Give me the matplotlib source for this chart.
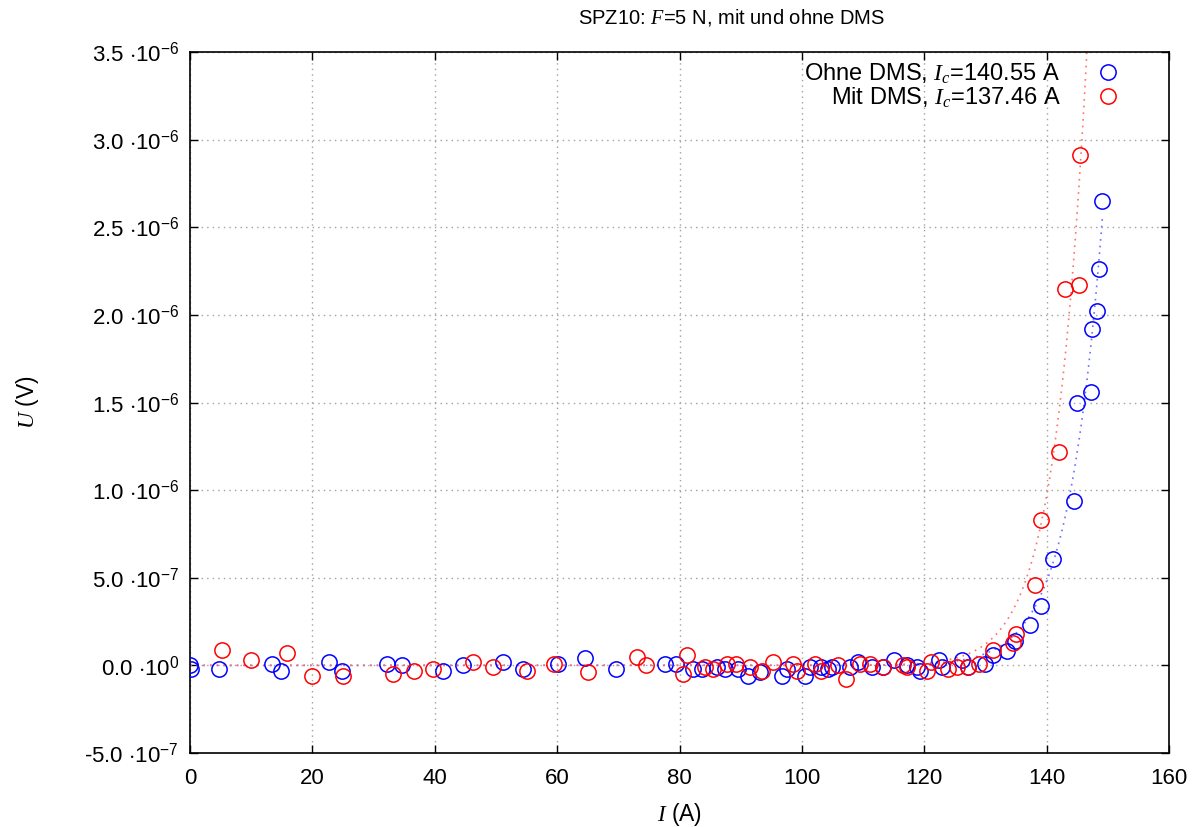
import numpy as np
import matplotlib
matplotlib.use("Agg")
import matplotlib.pyplot as plt
from matplotlib.ticker import FixedLocator

plt.rcParams['font.family'] = ['Liberation Sans', 'DejaVu Sans']
plt.rcParams['mathtext.fontset'] = 'custom'
plt.rcParams['mathtext.rm'] = 'Liberation Sans'
plt.rcParams['mathtext.it'] = 'Liberation Serif:italic'
plt.rcParams['mathtext.bf'] = 'Liberation Sans:bold'

# ---- data (U in 1e-6 V) ----
ohne_I = [0.0, 0.1, 4.76, 13.4, 14.9, 22.7, 24.8, 32.2, 34.7, 41.3, 44.6, 51.1, 54.4,
          60.2, 64.5, 69.6, 77.6, 79.4, 82.2, 83.7, 86.1, 87.5, 89.5, 91.2, 93.1,
          96.7, 97.6, 100.5, 101.3, 103.2, 104.2, 105.0, 107.8, 109.2, 111.5, 113.3,
          115.1, 117.1, 118.8, 119.3, 122.4, 122.9, 126.2, 127.2, 129.9, 131.2,
          133.5, 134.8, 137.3, 139.1, 141.1, 144.4, 145.0, 147.2, 147.4, 148.3,
          148.5, 149.1]
ohne_U = [0.0, -0.02, -0.02, 0.01, -0.03, 0.02, -0.03, 0.01, 0.0, -0.03, 0.0, 0.02, -0.02,
          0.01, 0.04, -0.02, 0.01, 0.01, -0.02, -0.02, -0.01, -0.02, -0.02, -0.06, -0.04,
          -0.06, -0.02, -0.06, -0.01, -0.01, -0.02, -0.01, -0.01, 0.02, -0.01, -0.01,
          0.03, 0.0, -0.01, -0.03, 0.03, -0.01, 0.03, -0.01, 0.006, 0.06,
          0.08, 0.14, 0.23, 0.34, 0.605, 0.936, 1.497, 1.558, 1.92, 2.02,
          2.26, 2.65]

mit_I = [5.26, 9.93, 15.9, 20.0, 25.0, 33.2, 36.6, 39.7, 46.3, 49.5, 55.1, 59.5,
         65.0, 73.1, 74.5, 80.6, 81.2, 84.2, 85.5, 87.8, 89.3, 91.5, 93.5, 95.3,
         98.6, 99.2, 102.1, 103.2, 105.9, 107.2, 109.5, 111.1, 113.3, 116.5, 117.1,
         120.4, 121.1, 123.9, 125.3, 127.2, 129.0, 131.2, 134.5, 135.0, 138.1,
         139.05, 142.0, 143.0, 145.3, 145.4]
mit_U = [0.09, 0.03, 0.07, -0.06, -0.06, -0.05, -0.03, -0.02, 0.02, -0.01, -0.03, 0.01,
         -0.04, 0.05, 0.0, -0.05, 0.06, -0.01, -0.02, 0.01, 0.01, -0.01, -0.03, 0.02,
         0.01, -0.03, 0.01, -0.03, 0.0, -0.08, 0.01, 0.01, -0.01, 0.0, -0.01,
         -0.03, 0.017, -0.02, -0.01, -0.01, 0.006, 0.086, 0.125, 0.18, 0.46,
         0.83, 1.22, 2.15, 2.17, 2.91]

# fit parameters (power law U = Uc*(I/Ic)^n)
ohne_Ic, ohne_Uc, ohne_n = 140.55, 0.533, 26.5
mit_Ic, mit_Uc, mit_n = 137.46, 0.58, 28.0

y_ticks = [-0.5, 0.0, 0.5, 1.0, 1.5, 2.0, 2.5, 3.0, 3.5]
y_labels = [r"-5.0 $\cdot$10$^{-7}$", r"0.0 $\cdot$10$^{0}$", r"5.0 $\cdot$10$^{-7}$",
            r"1.0 $\cdot$10$^{-6}$", r"1.5 $\cdot$10$^{-6}$", r"2.0 $\cdot$10$^{-6}$",
            r"2.5 $\cdot$10$^{-6}$", r"3.0 $\cdot$10$^{-6}$", r"3.5 $\cdot$10$^{-6}$"]
x_ticks = [0, 20, 40, 60, 80, 100, 120, 140, 160]

fig = plt.figure(figsize=(12.02, 8.27), dpi=100)
ax = fig.add_axes([190 / 1202, 1 - 753 / 827, 979 / 1202, 701 / 827])

Imax = max(max(ohne_I), max(mit_I))
Ifit = np.linspace(0, Imax, 800)
ax.plot(Ifit, ohne_Uc * (Ifit / ohne_Ic) ** ohne_n, ls=(0, (1, 3)), color='#6f6fff', lw=1.2, zorder=2)
ax.plot(Ifit, mit_Uc * (Ifit / mit_Ic) ** mit_n, ls=(0, (1, 3)), color='#ff6f6f', lw=1.2, zorder=2)

ax.plot(ohne_I, ohne_U, 'o', mfc='none', mec='#0000ff', ms=11, mew=1.1, ls='none',
        label=r"Ohne DMS, $I_c$=140.55 A", zorder=3)
ax.plot(mit_I, mit_U, 'o', mfc='none', mec='#ff0000', ms=11, mew=1.1, ls='none',
        label=r"Mit DMS, $I_c$=137.46 A", zorder=3)

ax.set_xlim(0, 160)
ax.set_ylim(-0.5, 3.5)
ax.xaxis.set_major_locator(FixedLocator(x_ticks))
ax.set_xticklabels([str(t) for t in x_ticks])
ax.yaxis.set_major_locator(FixedLocator(y_ticks))
ax.set_yticklabels(y_labels)
ax.tick_params(direction='in', top=True, right=True, labelsize=16, length=6, width=1)
ax.tick_params(axis='y', pad=8)
ax.tick_params(axis='x', pad=11)
ax.grid(True, ls=(0, (1, 3)), color='#a0a0a0', lw=1)
for s in ax.spines.values():
    s.set_linewidth(1.2)

ax.set_xlabel(r"$I$ (A)", fontsize=16.5)
ax.xaxis.set_label_coords(0.5, -0.069)
ax.set_ylabel(r"$U$ (V)", fontsize=16.5)
ax.yaxis.set_label_coords(-0.152, 0.5)
fig.text(731 / 1202, 1 - 18 / 827, r"SPZ10: $F$=5 N, mit und ohne DMS", fontsize=14.5,
         ha='center', va='center')

leg = ax.legend(loc='upper right', bbox_to_anchor=(0.971, 1.0), frameon=False,
                markerfirst=False, fontsize=17, handletextpad=1.0, handlelength=2.0,
                borderaxespad=0.0, labelspacing=0.0, alignment='right')
for t in leg.get_texts():
    t.set_ha('right')

fig.savefig("out.png", dpi=100)
